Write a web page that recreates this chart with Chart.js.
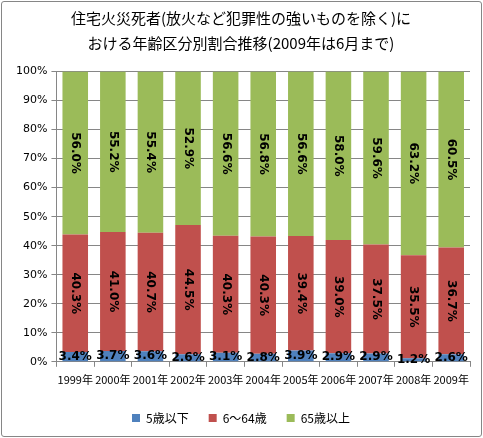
<!DOCTYPE html>
<html>
<head>
<meta charset="utf-8">
<script src="https://cdn.jsdelivr.net/npm/chart.js@4"></script>
<style>
body{margin:0;background:#fff;}
#box{position:absolute;left:1px;top:1px;width:479px;height:434px;border:1px solid #868686;border-radius:3px;background:#fff;}
canvas{display:block;}
</style>
</head>
<body>
<div id="box"><canvas id="fireChart" width="479" height="434"></canvas></div>
<script>
const years=["1999年","2000年","2001年","2002年","2003年","2004年","2005年","2006年","2007年","2008年","2009年"];
const under5=[3.4,3.7,3.6,2.6,3.1,2.8,3.9,2.9,2.9,1.2,2.6];
const age6to64=[40.3,41.0,40.7,44.5,40.3,40.3,39.4,39.0,37.5,35.5,36.7];
const over65=[56.0,55.2,55.4,52.9,56.6,56.8,56.6,58.0,59.6,63.2,60.5];
const yTicks=[0,10,20,30,40,50,60,70,80,90,100];

// 100%積み上げ: 合計で割って高さにする、ラベルは元の値
const totals=years.map((y,i)=>under5[i]+age6to64[i]+over65[i]);
const share=arr=>arr.map((v,i)=>v/totals[i]*100);
const rawValues=[under5,age6to64,over65];

// 棒の中に値を書く
const valueLabels={
id:'valueLabels',
afterDatasetsDraw(chart){
const ctx=chart.ctx;
ctx.save();
ctx.fillStyle='#000';
ctx.font='bold 12px "DejaVu Sans", sans-serif';
ctx.textAlign='center';
ctx.textBaseline='middle';
chart.data.datasets.forEach((ds,di)=>{
const meta=chart.getDatasetMeta(di);
meta.data.forEach((bar,i)=>{
const txt=rawValues[di][i].toFixed(1)+'%';
const cy=(bar.y+bar.base)/2;
if(di===0){
ctx.fillText(txt,bar.x,cy);
}else{
ctx.save();
ctx.translate(bar.x,cy);
ctx.rotate(Math.PI/2);
ctx.fillText(txt,0,0);
ctx.restore();
}
});
});
ctx.restore();
}
};

new Chart(document.getElementById('fireChart'),{
type:'bar',
data:{
labels:years,
datasets:[
{label:"5歳以下",data:share(under5),backgroundColor:"#4F81BD"},
{label:"6～64歳",data:share(age6to64),backgroundColor:"#C0504D"},
{label:"65歳以上",data:share(over65),backgroundColor:"#9BBB59"}
]
},
options:{
responsive:false,
animation:false,
layout:{padding:{left:10,right:11,top:0,bottom:2}},
datasets:{bar:{barPercentage:0.68,categoryPercentage:1}},
scales:{
x:{
stacked:true,
grid:{display:true,drawOnChartArea:false,color:'#868686',tickLength:5,offset:true},
border:{color:'#868686'},
ticks:{color:'#000',font:{size:11,family:'"Noto Sans CJK JP", sans-serif'},maxRotation:0,autoSkip:false,padding:6}
},
y:{
stacked:true,
min:0,max:100,
afterBuildTicks(axis){axis.ticks=yTicks.map(v=>({value:v}));},
grid:{color:'#868686',tickLength:5},
border:{color:'#868686'},
ticks:{color:'#000',font:{size:11,family:'"DejaVu Sans", sans-serif'},callback:v=>v+'%',padding:4}
}
},
plugins:{
title:{
display:true,
text:["住宅火災死者(放火など犯罪性の強いものを除く)に","おける年齢区分別割合推移(2009年は6月まで)"],
color:'#000',
font:{size:15,family:'"Noto Sans CJK JP", sans-serif',weight:'normal',lineHeight:1.65},
padding:{top:4,bottom:16}
},
legend:{
position:'bottom',
labels:{color:'#000',boxWidth:8,boxHeight:8,padding:20,font:{size:12,family:'"Noto Sans CJK JP", sans-serif'}}
},
tooltip:{enabled:false}
}
},
plugins:[valueLabels]
});
</script>
</body>
</html>
